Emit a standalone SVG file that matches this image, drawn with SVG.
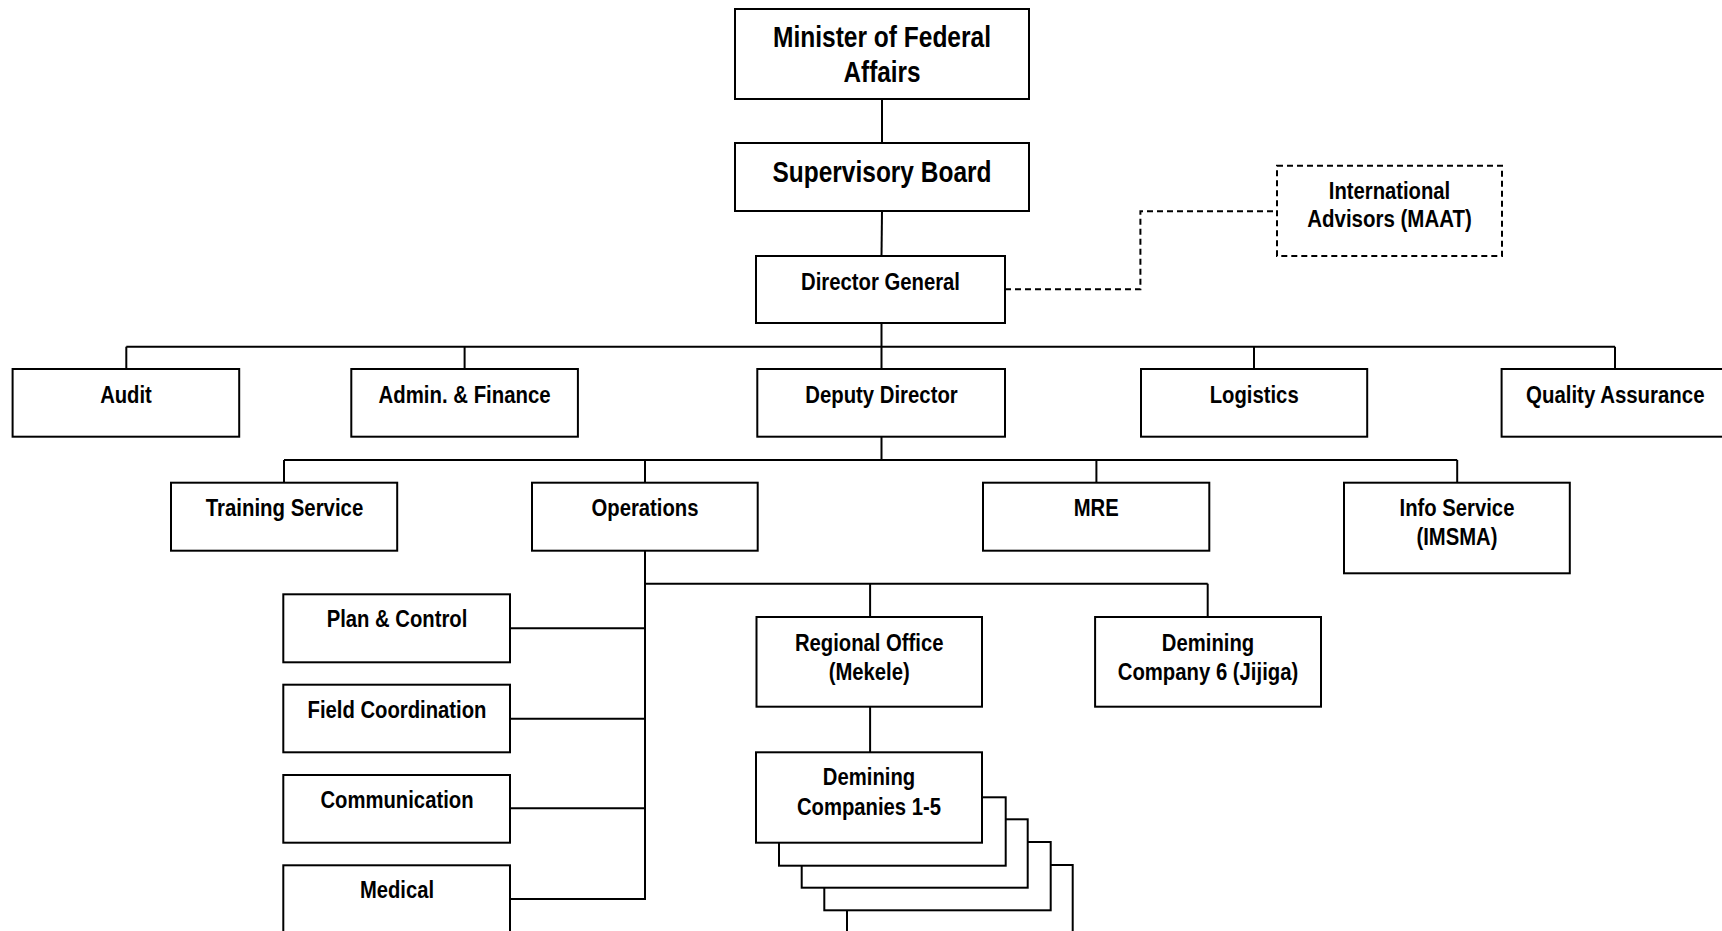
<svg xmlns="http://www.w3.org/2000/svg" width="1722" height="931" viewBox="0 0 1722 931">
<style>
  .box { fill: #ffffff; stroke: #000000; stroke-width: 2; }
  .dbox { fill: #ffffff; stroke: #000000; stroke-width: 2; stroke-dasharray: 6 4; }
  .ln { fill: none; stroke: #000000; stroke-width: 2; }
  .dln { fill: none; stroke: #000000; stroke-width: 2; stroke-dasharray: 6 4; }
  .t { font-family: "Liberation Sans Narrow", "Arial Narrow", "Liberation Sans", Arial, sans-serif; font-weight: bold; font-size: 24.7px; fill: #000000; text-anchor: middle; }
  .tl { font-size: 29px; }
</style>
<rect x="0" y="0" width="1722" height="931" fill="#ffffff"/>

<g id="connectors">
  <line class="ln" x1="882" y1="99" x2="882" y2="143"/>
  <line class="ln" x1="882" y1="211" x2="881.5" y2="256"/>
  <line class="ln" x1="881.5" y1="323" x2="881.5" y2="369"/>
  <line class="ln" x1="126.3" y1="346.7" x2="1615" y2="346.7"/>
  <line class="ln" x1="126.3" y1="346.7" x2="126.3" y2="369"/>
  <line class="ln" x1="464.6" y1="346.7" x2="464.6" y2="369"/>
  <line class="ln" x1="1254" y1="346.7" x2="1254" y2="369"/>
  <line class="ln" x1="1615" y1="346.7" x2="1615" y2="369"/>
  <line class="ln" x1="881.5" y1="437" x2="881.5" y2="460" stroke-width="3"/>
  <line class="ln" x1="284" y1="460" x2="1457.2" y2="460"/>
  <line class="ln" x1="284" y1="460" x2="284" y2="482.7"/>
  <line class="ln" x1="645" y1="460" x2="645" y2="482.7"/>
  <line class="ln" x1="1096.4" y1="460" x2="1096.4" y2="482.7"/>
  <line class="ln" x1="1457.2" y1="460" x2="1457.2" y2="482.7"/>
  <line class="ln" x1="645" y1="550.7" x2="645" y2="900"/>
  <line class="ln" x1="645" y1="583.7" x2="1207.7" y2="583.7"/>
  <line class="ln" x1="870.1" y1="583.7" x2="870.1" y2="617"/>
  <line class="ln" x1="1207.7" y1="583.7" x2="1207.7" y2="617"/>
  <line class="ln" x1="510" y1="628.3" x2="645" y2="628.3"/>
  <line class="ln" x1="510" y1="718.7" x2="645" y2="718.7"/>
  <line class="ln" x1="510" y1="808.3" x2="645" y2="808.3"/>
  <line class="ln" x1="510" y1="899" x2="645" y2="899"/>
  <line class="ln" x1="870.1" y1="706.7" x2="870.1" y2="752.3"/>
  <polyline class="dln" points="1005,289.3 1140.4,289.3 1140.4,211.3 1277,211.3"/>
</g>

<g id="minister">
  <rect class="box" x="735" y="9" width="294" height="90"/>
  <text class="t tl" x="882" y="46.5" textLength="218" lengthAdjust="spacingAndGlyphs">Minister of Federal</text>
  <text class="t tl" x="882" y="81.5" textLength="77" lengthAdjust="spacingAndGlyphs">Affairs</text>
</g>
<g id="supervisory-board">
  <rect class="box" x="735" y="143" width="294" height="68"/>
  <text class="t tl" x="882" y="181.5" textLength="219" lengthAdjust="spacingAndGlyphs">Supervisory Board</text>
</g>
<g id="director-general">
  <rect class="box" x="756" y="256" width="249" height="67"/>
  <text class="t" x="880.5" y="290" textLength="159" lengthAdjust="spacingAndGlyphs">Director General</text>
</g>
<g id="international-advisors">
  <rect class="dbox" x="1277" y="165.7" width="225" height="90.3"/>
  <text class="t" x="1389.5" y="199.3" textLength="121.5" lengthAdjust="spacingAndGlyphs">International</text>
  <text class="t" x="1389.5" y="227.3" textLength="164.5" lengthAdjust="spacingAndGlyphs">Advisors (MAAT)</text>
</g>

<g id="audit">
  <rect class="box" x="12.6" y="369" width="226.6" height="67.7"/>
  <text class="t" x="126" y="402.7" textLength="51.7" lengthAdjust="spacingAndGlyphs">Audit</text>
</g>
<g id="admin-finance">
  <rect class="box" x="351.3" y="369" width="226.6" height="67.7"/>
  <text class="t" x="464.6" y="402.7" textLength="172" lengthAdjust="spacingAndGlyphs">Admin. &amp; Finance</text>
</g>
<g id="deputy-director">
  <rect class="box" x="757.3" y="369" width="247.7" height="67.7"/>
  <text class="t" x="881.5" y="402.7" textLength="152.5" lengthAdjust="spacingAndGlyphs">Deputy Director</text>
</g>
<g id="logistics">
  <rect class="box" x="1141" y="369" width="226.2" height="67.7"/>
  <text class="t" x="1254.2" y="402.7" textLength="88.9" lengthAdjust="spacingAndGlyphs">Logistics</text>
</g>
<g id="quality-assurance">
  <rect class="box" x="1501.6" y="369" width="226.6" height="67.7"/>
  <text class="t" x="1615.3" y="402.7" textLength="178.5" lengthAdjust="spacingAndGlyphs">Quality Assurance</text>
</g>

<g id="training-service">
  <rect class="box" x="171" y="482.7" width="226.2" height="68"/>
  <text class="t" x="284.5" y="515.7" textLength="157.6" lengthAdjust="spacingAndGlyphs">Training Service</text>
</g>
<g id="operations">
  <rect class="box" x="532" y="482.7" width="225.7" height="68"/>
  <text class="t" x="645" y="515.7" textLength="106.9" lengthAdjust="spacingAndGlyphs">Operations</text>
</g>
<g id="mre">
  <rect class="box" x="983" y="482.7" width="226.3" height="68"/>
  <text class="t" x="1096.2" y="515.7" textLength="45" lengthAdjust="spacingAndGlyphs">MRE</text>
</g>
<g id="info-service">
  <rect class="box" x="1344" y="482.7" width="225.8" height="90.6"/>
  <text class="t" x="1457" y="515.7" textLength="114.8" lengthAdjust="spacingAndGlyphs">Info Service</text>
  <text class="t" x="1457" y="545" textLength="81" lengthAdjust="spacingAndGlyphs">(IMSMA)</text>
</g>

<g id="plan-control">
  <rect class="box" x="283.3" y="594.3" width="226.7" height="68"/>
  <text class="t" x="397" y="627.3" textLength="140.7" lengthAdjust="spacingAndGlyphs">Plan &amp; Control</text>
</g>
<g id="field-coordination">
  <rect class="box" x="283.3" y="684.7" width="226.7" height="67.6"/>
  <text class="t" x="397" y="718.3" textLength="179" lengthAdjust="spacingAndGlyphs">Field Coordination</text>
</g>
<g id="communication">
  <rect class="box" x="283.3" y="775" width="226.7" height="67.7"/>
  <text class="t" x="397" y="808.3" textLength="153.1" lengthAdjust="spacingAndGlyphs">Communication</text>
</g>
<g id="medical">
  <rect class="box" x="283.3" y="865.3" width="226.7" height="80"/>
  <text class="t" x="397" y="898.3" textLength="74" lengthAdjust="spacingAndGlyphs">Medical</text>
</g>

<g id="regional-office">
  <rect class="box" x="756.5" y="617" width="225.5" height="89.7"/>
  <text class="t" x="869.2" y="650.7" textLength="148.6" lengthAdjust="spacingAndGlyphs">Regional Office</text>
  <text class="t" x="869.2" y="680" textLength="81" lengthAdjust="spacingAndGlyphs">(Mekele)</text>
</g>
<g id="demining-company-6">
  <rect class="box" x="1095.1" y="617" width="225.9" height="89.7"/>
  <text class="t" x="1208" y="650.7" textLength="92.3" lengthAdjust="spacingAndGlyphs">Demining</text>
  <text class="t" x="1208" y="680" textLength="180.5" lengthAdjust="spacingAndGlyphs">Company 6 (Jijiga)</text>
</g>

<g id="demining-companies-1-5">
  <rect class="box" x="847" y="865" width="225.7" height="90"/>
  <rect class="box" x="824.3" y="842" width="226.4" height="68.3"/>
  <rect class="box" x="801.7" y="819.3" width="226" height="68.4"/>
  <rect class="box" x="779" y="797.3" width="226.7" height="68.4"/>
  <rect class="box" x="756" y="752.3" width="226" height="90.4"/>
  <text class="t" x="869" y="785" textLength="92.3" lengthAdjust="spacingAndGlyphs">Demining</text>
  <text class="t" x="869" y="814.5" textLength="144.1" lengthAdjust="spacingAndGlyphs">Companies 1-5</text>
</g>
</svg>
